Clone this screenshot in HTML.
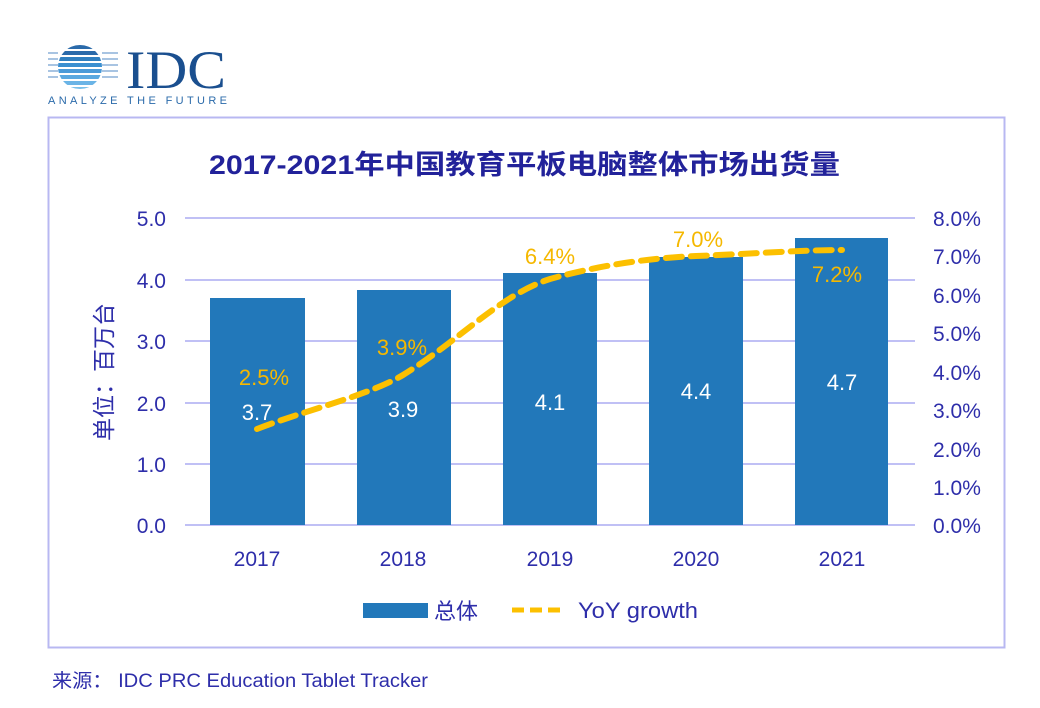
<!DOCTYPE html>
<html><head><meta charset="utf-8"><style>
body{margin:0;background:#fff;width:1040px;height:703px;overflow:hidden;font-family:"Liberation Sans","Noto Sans CJK SC",sans-serif}
</style></head><body>
<svg width="1040" height="703" xmlns="http://www.w3.org/2000/svg" font-family="Liberation Sans, Noto Sans CJK SC, sans-serif">
<g>
<clipPath id="c"><circle cx="80" cy="67" r="22"/></clipPath>
<g clip-path="url(#c)" fill="#2a6aaa">
<rect x="50" y="45" width="60" height="4"/><rect x="50" y="51" width="60" height="4"/><rect x="50" y="57" width="60" height="4" fill="#2f7fc0"/><rect x="50" y="63" width="60" height="4" fill="#3a8fd0"/><rect x="50" y="69" width="60" height="4" fill="#4a9ad8"/><rect x="50" y="75" width="60" height="4" fill="#5aa8e0"/><rect x="50" y="81" width="60" height="4" fill="#6ab4e6"/><rect x="50" y="87" width="60" height="4" fill="#7ac0ea"/>
</g>
<g stroke="#8ab0d8" stroke-width="1.5"><line x1="48" y1="53" x2="58" y2="53"/><line x1="48" y1="59" x2="58" y2="59"/><line x1="48" y1="65" x2="58" y2="65"/><line x1="48" y1="71" x2="58" y2="71"/><line x1="48" y1="77" x2="58" y2="77"/><line x1="102" y1="53" x2="118" y2="53"/><line x1="102" y1="59" x2="118" y2="59"/><line x1="102" y1="65" x2="118" y2="65"/><line x1="102" y1="71" x2="118" y2="71"/><line x1="102" y1="77" x2="118" y2="77"/></g>
<text x="126" y="88" font-family="Liberation Serif, serif" font-size="54" fill="#1a4f8f" textLength="100" lengthAdjust="spacingAndGlyphs">IDC</text>
<text x="48" y="104" font-size="11" fill="#2a6aaa" textLength="179" lengthAdjust="spacing">ANALYZE THE FUTURE</text>
</g>
<rect x="48.5" y="117.5" width="956" height="530" fill="none" stroke="#b8b8f2" stroke-width="2"/>
<text x="209" y="174" font-size="27" font-weight="bold" fill="#22229a" textLength="631" lengthAdjust="spacingAndGlyphs">2017-2021年中国教育平板电脑整体市场出货量</text>
<g stroke="#c0c0f5" stroke-width="2">
<line x1="185" y1="218" x2="915" y2="218"/><line x1="185" y1="280" x2="915" y2="280"/><line x1="185" y1="341" x2="915" y2="341"/><line x1="185" y1="403" x2="915" y2="403"/><line x1="185" y1="464" x2="915" y2="464"/><line x1="185" y1="525" x2="915" y2="525"/>
</g>
<g font-size="21" fill="#2e2eaa" text-anchor="end">
<text x="166" y="226">5.0</text><text x="166" y="288">4.0</text><text x="166" y="349">3.0</text><text x="166" y="411">2.0</text><text x="166" y="472">1.0</text><text x="166" y="533">0.0</text>
</g>
<g font-size="21" fill="#2e2eaa" text-anchor="start">
<text x="933" y="226">8.0%</text><text x="933" y="264">7.0%</text><text x="933" y="303">6.0%</text><text x="933" y="341">5.0%</text><text x="933" y="380">4.0%</text><text x="933" y="418">3.0%</text><text x="933" y="457">2.0%</text><text x="933" y="495">1.0%</text><text x="933" y="533">0.0%</text>
</g>
<text transform="translate(112,372) rotate(-90)" text-anchor="middle" font-size="23" fill="#2e2eaa">单位：百万台</text>
<g fill="#2278ba">
<rect x="210" y="298" width="95" height="227"/><rect x="357" y="290" width="94" height="235"/><rect x="503" y="273" width="94" height="252"/><rect x="649" y="257" width="94" height="268"/><rect x="795" y="238" width="93" height="287"/>
</g>
<g font-size="21" fill="#2e2eaa" text-anchor="middle">
<text x="257" y="566">2017</text><text x="403" y="566">2018</text><text x="550" y="566">2019</text><text x="696" y="566">2020</text><text x="842" y="566">2021</text>
</g>
<g font-size="22" fill="#fff" text-anchor="middle">
<text x="257" y="420">3.7</text><text x="403" y="417">3.9</text><text x="550" y="410">4.1</text><text x="696" y="399">4.4</text><text x="842" y="390">4.7</text>
</g>
<path d="M257,429 C300,412 370,395 403,375 C460,340 500,295 550,279 C600,265 650,258 696,256 C750,254 800,250 842,250" fill="none" stroke="#fcc000" stroke-width="6" stroke-dasharray="16,9" stroke-linecap="round"/>
<g font-size="22" fill="#f5b800" text-anchor="middle">
<text x="264" y="385">2.5%</text><text x="402" y="355">3.9%</text><text x="550" y="264">6.4%</text><text x="698" y="247">7.0%</text><text x="837" y="282">7.2%</text>
</g>
<rect x="363" y="603" width="65" height="15" fill="#2278ba"/>
<text x="434" y="619" font-size="22" fill="#2e2eaa">总体</text>
<line x1="512" y1="610" x2="566" y2="610" stroke="#fcc000" stroke-width="5" stroke-dasharray="12,6"/>
<text x="578" y="618" font-size="22" fill="#2e2eaa" textLength="120" lengthAdjust="spacingAndGlyphs">YoY growth</text>
<text x="52" y="687" font-size="19" fill="#2e2eaa" textLength="376" lengthAdjust="spacingAndGlyphs">来源：  IDC PRC Education  Tablet Tracker</text>
</svg>
</body></html>
